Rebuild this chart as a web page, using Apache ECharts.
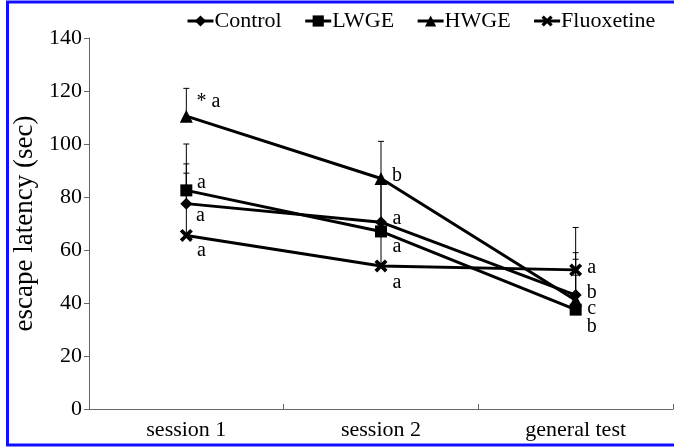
<!DOCTYPE html>
<html>
<head>
<meta charset="utf-8">
<script src="https://cdn.jsdelivr.net/npm/echarts@6/dist/echarts.min.js"></script>
<style>
  html, body { margin: 0; padding: 0; background: #fff; }
  #chart { width: 674px; height: 447px; }
</style>
</head>
<body>
<div id="chart"></div>
<script>
const categories = ['session 1', 'session 2', 'general test'];
const seriesNames = ['Control', 'LWGE', 'HWGE', 'Fluoxetine'];

const control = [77.5, 70.5, 43];
const lwge = [82.5, 67, 37.5];
const hwge = [110.5, 87, 41];
const fluoxetine = [65.5, 54, 52.5];

// upper error (SD)
const controlErr = [15, 16.5, 16];
const lwgeErr = [17.5, 20, 13];
const hwgeErr = [10.5, 14, 15.5];
const fluoxetineErr = [23.5, 13, 16];

// significance letters
const controlLetters = ['a', 'a', 'b'];
const lwgeLetters = ['a', 'a', 'b'];
const hwgeLetters = ['* a', 'b', 'c'];
const fluoxetineLetters = ['a', 'a', 'a'];

const yTicks = [0, 20, 40, 60, 80, 100, 120, 140];

const FONT = '"Liberation Serif", "Times New Roman", serif';
const crossPath = 'path://M2,0 L5,3 L8,0 L10,2 L7,5 L10,8 L8,10 L5,7 L2,10 L0,8 L3,5 L0,2 Z';

const groups = [
  { name: 'Control', values: control, err: controlErr, letters: controlLetters,
    symbol: 'diamond', size: 12, offsets: [[14, 12], [16, -3], [16, -2]] },
  { name: 'LWGE', values: lwge, err: lwgeErr, letters: lwgeLetters,
    symbol: 'rect', size: 12, offsets: [[15, -8], [16, 15], [16, 17]] },
  { name: 'HWGE', values: hwge, err: hwgeErr, letters: hwgeLetters,
    symbol: 'triangle', size: 13, offsets: [[22, -14], [16, -3], [16, 8]] },
  { name: 'Fluoxetine', values: fluoxetine, err: fluoxetineErr, letters: fluoxetineLetters,
    symbol: crossPath, size: 13, offsets: [[15, 15], [16, 17], [16, -2]] }
];

function errorBarItem(params, api) {
  const base = api.coord([api.value(0), api.value(1)]);
  const top = api.coord([api.value(0), api.value(2)]);
  const style = { stroke: '#000', lineWidth: 1 };
  return {
    type: 'group',
    children: [
      { type: 'line', shape: { x1: base[0], y1: base[1], x2: top[0], y2: top[1] }, style },
      { type: 'line', shape: { x1: top[0] - 3, y1: top[1], x2: top[0] + 3, y2: top[1] }, style }
    ]
  };
}

const series = [];
for (const g of groups) {
  series.push({
    name: g.name,
    type: 'line',
    z: 3,
    color: '#000',
    symbol: g.symbol,
    symbolSize: g.size,
    lineStyle: { color: '#000', width: 3 },
    itemStyle: { color: '#000' },
    data: g.values.map((v, i) => ({
      value: v,
      label: {
        show: true,
        position: 'inside',
        offset: g.offsets[i],
        formatter: g.letters[i],
        color: '#000',
        fontFamily: FONT,
        fontSize: 20
      }
    }))
  });
}
for (const g of groups) {
  series.push({
    name: g.name + ' SD',
    type: 'custom',
    renderItem: errorBarItem,
    z: 1,
    silent: true,
    data: g.values.map((v, i) => [i, v, v + g.err[i]])
  });
}

const chart = echarts.init(document.getElementById('chart'));
chart.setOption({
  backgroundColor: '#fff',
  animation: false,
  graphic: [{
    type: 'rect',
    shape: { x: 7.5, y: 2, width: 700, height: 443 },
    style: { fill: 'none', stroke: '#1010ff', lineWidth: 3 },
    z: 100
  }],
  legend: {
    data: seriesNames,
    left: 181,
    top: 5,
    itemWidth: 26,
    itemHeight: 14,
    itemGap: 22,
    lineStyle: { width: 3 },
    textStyle: { fontFamily: FONT, fontSize: 22, color: '#000', padding: [0, 0, 0, -4] }
  },
  grid: { left: 89, right: 1, top: 38, bottom: 38, outerBoundsMode: 'none' },
  xAxis: {
    type: 'category',
    data: categories,
    boundaryGap: true,
    axisLine: { lineStyle: { color: '#666', width: 1 } },
    axisTick: { show: true, inside: true, length: 5, lineStyle: { color: '#666' } },
    axisLabel: { fontFamily: FONT, fontSize: 22, color: '#000', margin: 10 }
  },
  yAxis: {
    type: 'value',
    min: yTicks[0],
    max: yTicks[yTicks.length - 1],
    interval: 20,
    name: 'escape latency (sec)',
    nameLocation: 'middle',
    nameGap: 46,
    nameTextStyle: { fontFamily: FONT, fontSize: 27, color: '#000' },
    splitLine: { show: false },
    axisLine: { show: true, lineStyle: { color: '#666', width: 1 } },
    axisTick: { show: true, length: 5, lineStyle: { color: '#666' } },
    axisLabel: { fontFamily: FONT, fontSize: 22, color: '#000', margin: 7 }
  },
  series
});
</script>
</body>
</html>
